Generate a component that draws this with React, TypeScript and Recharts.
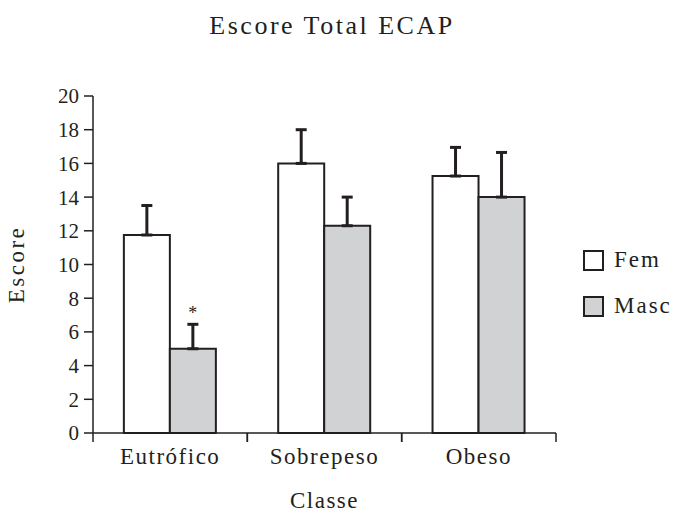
import { Bar, BarChart, ErrorBar, LabelList, XAxis, YAxis } from "recharts"

// Values
const classes = ["Eutrófico", "Sobrepeso", "Obeso"]
const femMeans = [11.75, 16.0, 15.25]
const femErrors = [1.75, 2.0, 1.7]
const mascMeans = [5.0, 12.3, 14.0]
const mascErrors = [1.45, 1.7, 2.65]
const mascMarks = ["*", "", ""]
const yTicks = [0, 2, 4, 6, 8, 10, 12, 14, 16, 18, 20]

const series = [
  { key: "fem", name: "Fem", fill: "#ffffff" },
  { key: "masc", name: "Masc", fill: "#d1d2d4" },
]

const data = classes.map((c, i) => ({
  classe: c,
  fem: femMeans[i],
  femErr: [0, femErrors[i]],
  masc: mascMeans[i],
  mascErr: [0, mascErrors[i]],
  mark: mascMarks[i],
}))

const FONT = "'Liberation Serif', 'DejaVu Serif', serif"
const INK = "#231f20"

const TICK_SIZE = 0
const TICK_MARGIN = 14

// category label plus the boundary tick marks between classes
function ClassTick(props: any) {
  const { x, y, payload } = props
  const half = payload.offset || 0
  const axisY = y - TICK_SIZE - TICK_MARGIN
  return (
    <g>
      <line x1={x - half} y1={axisY} x2={x - half} y2={axisY + 9} stroke={INK} strokeWidth={1.5} />
      <line x1={x + half} y1={axisY} x2={x + half} y2={axisY + 9} stroke={INK} strokeWidth={1.5} />
      <text
        x={x}
        y={y}
        dy={17}
        textAnchor="middle"
        fontFamily={FONT}
        fontSize={23}
        fill={INK}
        style={{ letterSpacing: 1.5 }}
      >
        {payload.value}
      </text>
    </g>
  )
}

export default function App() {
  return (
    <div style={{ position: "absolute", left: 0, top: 0, width: 674, height: 514, background: "#fff" }}>
      <div
        style={{
          position: "absolute",
          top: 11,
          left: 0,
          width: 664,
          textAlign: "center",
          fontFamily: FONT,
          fontSize: 26,
          letterSpacing: 2.5,
          color: INK,
        }}
      >
        Escore Total ECAP
      </div>
      <BarChart
        width={674}
        height={514}
        data={data}
        margin={{ top: 96, right: 118, bottom: 0, left: 23 }}
        barCategoryGap="20%"
        barGap={0}
      >
        <XAxis
          dataKey="classe"
          height={81}
          tickLine={false}
          tickSize={TICK_SIZE}
          tickMargin={TICK_MARGIN}
          axisLine={{ stroke: INK, strokeWidth: 1.5 }}
          tick={<ClassTick />}
          interval={0}
          label={{
            value: "Classe",
            position: "insideBottom",
            offset: 6,
            style: { fontFamily: FONT, fontSize: 23, fill: INK, letterSpacing: 1.5 },
          }}
        />
        <YAxis
          width={70}
          domain={[0, 20]}
          ticks={yTicks}
          interval={0}
          tickSize={9}
          tickMargin={5}
          tickLine={{ stroke: INK, strokeWidth: 1.5 }}
          axisLine={{ stroke: INK, strokeWidth: 1.5 }}
          tick={{ fontFamily: FONT, fontSize: 21, fill: INK }}
          label={{
            value: "Escore",
            angle: -90,
            position: "insideLeft",
            offset: -7,
            style: { fontFamily: FONT, fontSize: 23, fill: INK, textAnchor: "middle", letterSpacing: 2.5 },
          }}
        />
        <Bar dataKey="fem" name="Fem" fill="#ffffff" stroke={INK} strokeWidth={2} isAnimationActive={false}>
          <ErrorBar dataKey="femErr" direction="y" width={5.5} stroke={INK} strokeWidth={3} />
        </Bar>
        <Bar dataKey="masc" name="Masc" fill="#d1d2d4" stroke={INK} strokeWidth={2} isAnimationActive={false}>
          <ErrorBar dataKey="mascErr" direction="y" width={5.5} stroke={INK} strokeWidth={3} />
          <LabelList dataKey="mark" position="top" offset={30} fontFamily={FONT} fontSize={18} fill={INK} />
        </Bar>
      </BarChart>
      <div style={{ position: "absolute", left: 583, top: 237 }}>
        {series.map((s) => (
          <div key={s.key} style={{ display: "flex", alignItems: "center", height: 46 }}>
            <div
              style={{
                width: 17,
                height: 17,
                border: `2px solid ${INK}`,
                background: s.fill,
                marginRight: 10,
              }}
            />
            <span style={{ fontFamily: FONT, fontSize: 23, letterSpacing: 2, color: INK }}>{s.name}</span>
          </div>
        ))}
      </div>
    </div>
  )
}
